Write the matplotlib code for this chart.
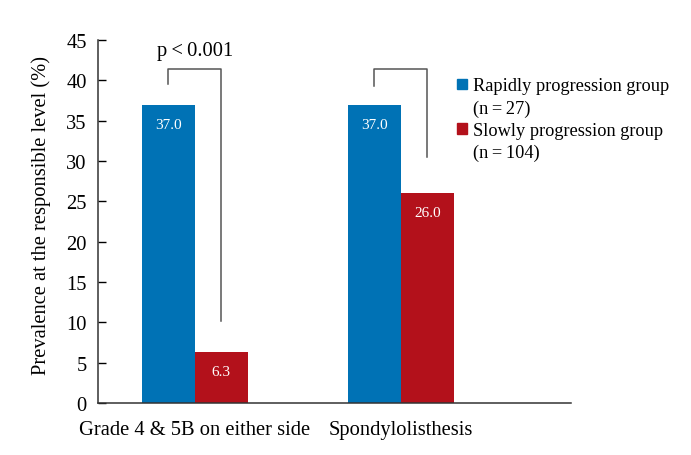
import matplotlib.pyplot as plt
from matplotlib.patches import Patch
import numpy as np

plt.rcParams["font.family"] = ["Liberation Serif", "DejaVu Serif"]

categories = ["Grade 4 & 5B on either side", "Spondylolisthesis"]
rapid = [37.0, 37.0]
slow = [6.3, 26.0]
rapid_label = ["Rapidly progression group", "(n\u2009=\u200927)"]
slow_label = ["Slowly progression group", "(n\u2009=\u2009104)"]
yticks = [0, 5, 10, 15, 20, 25, 30, 35, 40, 45]

blue = "#0072b5"
red = "#b3111b"
fs = 14.8

fig = plt.figure(figsize=(6.91, 4.56), dpi=100)
ax = fig.add_axes([0.1418, 0.114, 0.6845, 0.796])

x = np.arange(len(categories))
w = 0.257
b1 = ax.bar(x - w / 2, rapid, w, color=blue)
b2 = ax.bar(x + w / 2, slow, w, color=red)

for bars, vals in [(b1, rapid), (b2, slow)]:
    for bar, v in zip(bars, vals):
        ax.annotate(f"{v:.1f}", (bar.get_x() + bar.get_width() / 2, v),
                    xytext=(0, -14), textcoords="offset points",
                    ha="center", va="center", color="white", fontsize=11)

# brackets (top, left drop, right drop)
brackets = [(41.4, 39.5, 10.2), (41.4, 39.3, 30.5)]
for xi, (top, lo, ro) in zip(x, brackets):
    ax.plot([xi - w / 2, xi - w / 2, xi + w / 2, xi + w / 2],
            [lo, top, top, ro], color="#555555", lw=1.1, clip_on=False)
ax.text(x[0], 43.7, "p\u2009<\u20090.001", ha="center", va="center", fontsize=fs)

ax.set_xlim(-0.47, 1.825)
ax.set_ylim(0, 45)
ax.set_yticks(yticks)
ax.set_xticks(x)
ax.set_xticklabels(categories, fontsize=fs)
ax.tick_params(axis="x", length=0, pad=12)
ax.tick_params(axis="y", direction="in", length=6, width=1, labelsize=fs, pad=8)
for s in ["top", "right"]:
    ax.spines[s].set_visible(False)
for s in ["left", "bottom"]:
    ax.spines[s].set_linewidth(1.1)
    ax.spines[s].set_color("#333333")
ax.set_ylabel("Prevalence at the responsible level (%)", fontsize=fs)
ax.yaxis.set_label_coords(-0.10, 0.52)

blank = Patch(facecolor="none", edgecolor="none")
handles = [Patch(color=blue), blank, Patch(color=red), blank]
labels = rapid_label + slow_label
ax.legend(handles, labels, loc="upper left", bbox_to_anchor=(0.662, 0.828),
          bbox_transform=fig.transFigure, frameon=False, fontsize=13.2,
          handlelength=0.5, handleheight=0.5, handletextpad=0.35,
          labelspacing=0.28, borderpad=0, borderaxespad=0)

fig.savefig("out.png", dpi=100)
